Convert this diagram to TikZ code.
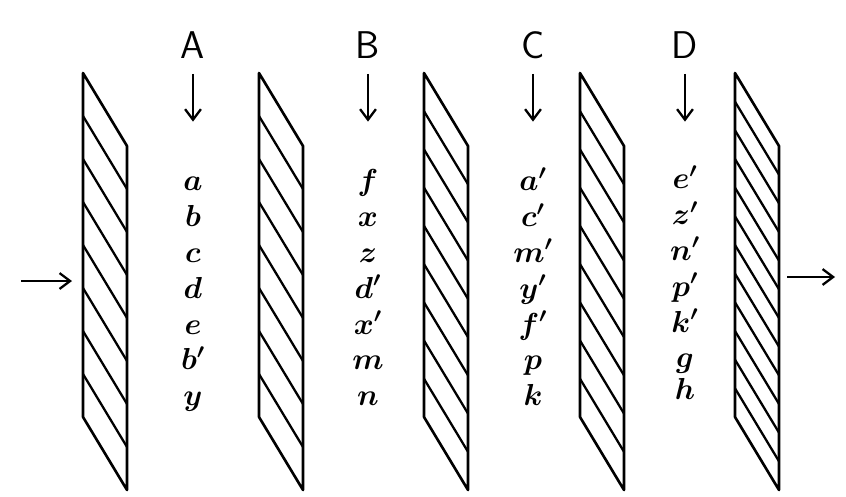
\documentclass[tikz,border=0pt]{standalone}
\usepackage{amsmath}
\usetikzlibrary{arrows.meta,positioning}
\tikzstyle{panel} = [line width=1.5pt,line join=round]
\tikzstyle{hatch} = [line width=1.3pt]
\tikzstyle{flow} = [-{Straight Barb[length=6pt,width=9pt,line width=1.3pt]},line width=1.4pt]
\tikzstyle{heading} = [inner sep=0,font=\sffamily\fontsize{22}{24}\selectfont]
\tikzstyle{letter} = [inner sep=0,text height=12pt,text depth=4pt,font=\boldmath\fontsize{18}{21}\selectfont]
% one hatched plate: name, left edge, number of hatch strokes
\newcommand\hatchpanel[3]{%
  \draw[panel] (#2,73) coordinate (#1) -- ++(44,73) -- ++(0,344) -- ++(-44,-73) -- cycle;
  \pgfmathsetmacro\hstep{344/(#3+1)}
  \foreach \k in {1,...,#3} \draw[hatch] (#2,{73+\k*\hstep}) -- ++(44,73);
}

\begin{document}
\begin{tikzpicture}[x=0.02cm,y=-0.02cm,node distance=0.72cm,on grid]
      \useasboundingbox (0,0) rectangle (846,497);
      % plates
      \hatchpanel{p1}{83}{7}
      \hatchpanel{p2}{259}{7}
      \hatchpanel{p3}{424}{8}
      \hatchpanel{p4}{580}{8}
      \hatchpanel{p5}{735}{11}
      % column A
      \node[heading] (lA) at (193,45) {A};
      \node[letter] (A1) at (193,183) {$a$};
      \node[letter,below=of A1] (A2) {$b$};
      \node[letter,below=of A2] (A3) {$c$};
      \node[letter,below=of A3] (A4) {$d$};
      \node[letter,below=of A4] (A5) {$e$};
      \node[letter,below=of A5] (A6) {$b'$};
      \node[letter,below=of A6] (A7) {$y$};
      % column B
      \node[heading] (lB) at (368,45) {B};
      \node[letter] (B1) at (368,183) {$f$};
      \node[letter,below=of B1] (B2) {$x$};
      \node[letter,below=of B2] (B3) {$z$};
      \node[letter,below=of B3] (B4) {$d'$};
      \node[letter,below=of B4] (B5) {$x'$};
      \node[letter,below=of B5] (B6) {$m$};
      \node[letter,below=of B6] (B7) {$n$};
      % column C
      \node[heading] (lC) at (533,45) {C};
      \node[letter] (C1) at (533,183) {$a'$};
      \node[letter,below=of C1] (C2) {$c'$};
      \node[letter,below=of C2] (C3) {$m'$};
      \node[letter,below=of C3] (C4) {$y'$};
      \node[letter,below=of C4] (C5) {$f'$};
      \node[letter,below=of C5] (C6) {$p$};
      \node[letter,below=of C6] (C7) {$k$};
      % column D
      \node[heading] (lD) at (685,45) {D};
      \node[letter] (D1) at (685,181) {$e'$};
      \node[letter,below=of D1] (D2) {$z'$};
      \node[letter,below=of D2] (D3) {$n'$};
      \node[letter,below=of D3] (D4) {$p'$};
      \node[letter,below=of D4] (D5) {$k'$};
      \node[letter,below=of D5] (D6) {$g$};
      \node[letter,below=0.64cm of D6] (D7) {$h$};
      % arrows
      \draw[flow,shorten <=0.3cm,shorten >=0.94cm] (lA) -- (A1);
      \draw[flow,shorten <=0.3cm,shorten >=0.94cm] (lB) -- (B1);
      \draw[flow,shorten <=0.3cm,shorten >=0.94cm] (lC) -- (C1);
      \draw[flow,shorten <=0.3cm,shorten >=0.9cm] (lD) -- (D1);
      \coordinate (src) at (21,281);
      \coordinate (srctip) at (72,281);
      \draw[flow] (src) -- (srctip);
      \coordinate (out) at (787,277);
      \coordinate (outtip) at (835,277);
      \draw[flow] (out) -- (outtip);
    \end{tikzpicture}
\end{document}
